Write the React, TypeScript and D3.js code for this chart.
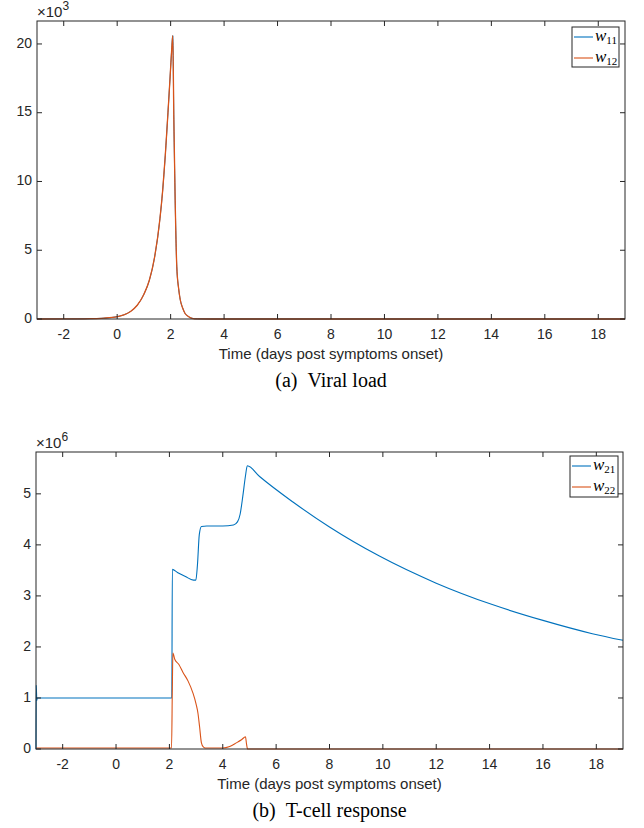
import React from "react";
import * as d3 from "d3";

// ---------- data ----------
const xTicks = [-2, 0, 2, 4, 6, 8, 10, 12, 14, 16, 18];
const yTicksA = [0, 5, 10, 15, 20];
const yTicksB = [0, 1, 2, 3, 4, 5];

// Viral load (x10^3)
const tA = [-3, -2, -1.5, -1, -0.5, 0, 0.25, 0.5, 0.75, 1, 1.2, 1.4, 1.6, 1.7, 1.8, 1.9, 1.98, 2.04, 2.08, 2.12, 2.17, 2.23, 2.3, 2.36, 2.45, 2.54, 2.65, 2.8, 3, 3.5, 19];
const w11 = [0, 0.002, 0.005, 0.02, 0.06, 0.17, 0.3, 0.55, 1.0, 1.8, 2.8, 4.5, 7.3, 9.3, 11.9, 15.0, 17.6, 19.6, 20.6, 14.5, 8.6, 3.8, 2.2, 1.4, 0.8, 0.4, 0.2, 0.05, 0.01, 0, 0];
const w12 = [0, 0.002, 0.005, 0.02, 0.06, 0.17, 0.3, 0.55, 1.0, 1.8, 2.8, 4.5, 7.3, 9.3, 11.9, 15.0, 17.6, 19.6, 20.6, 14.5, 8.6, 3.8, 2.2, 1.4, 0.8, 0.4, 0.2, 0.05, 0.01, 0, 0];

// T-cell response (x10^6)
const tB21 = [-3, -2.99, -2.97, -2.95, 2.09, 2.11, 2.3, 2.6, 2.9, 2.99, 3.05, 3.12, 3.2, 3.4, 4.0, 4.4, 4.55, 4.65, 4.75, 4.85, 4.92, 5.38, 6.63, 8.0, 9.87, 12.0, 14.1, 16.0, 17.85, 19];
const w21 = [0, 1.25, 0.95, 1.0, 1.0, 3.52, 3.46, 3.38, 3.31, 3.31, 3.6, 4.2, 4.36, 4.37, 4.37, 4.39, 4.45, 4.6, 4.95, 5.35, 5.55, 5.34, 4.84, 4.35, 3.78, 3.25, 2.83, 2.52, 2.26, 2.13];
const tB22 = [-3, 2.08, 2.11, 2.13, 2.2, 2.35, 2.51, 2.7, 2.88, 3.0, 3.07, 3.13, 3.2, 3.27, 3.35, 4.0, 4.26, 4.51, 4.7, 4.85, 4.89, 4.93, 19];
const w22 = [0.02, 0.02, 1.2, 1.88, 1.76, 1.66, 1.5, 1.33, 1.1, 0.88, 0.7, 0.44, 0.12, 0.04, 0.02, 0.02, 0.05, 0.12, 0.18, 0.24, 0.1, 0.0, 0.0];

const BLUE = "#0072BD";
const ORANGE = "#D95319";
const AX = "#262626";
const SANS = "'Liberation Sans', Arial, Helvetica, sans-serif";
const SERIF = "'Liberation Serif', 'Times New Roman', serif";

type Series = { t: number[]; v: number[]; color: string; w: number };

function Panel(props: {
  left: number; top: number; right: number; bottom: number;
  yMax: number; yTicks: number[]; exp: string;
  series: Series[]; legend: { sub: string; color: string }[];
  caption: string; legendBox: { x: number; y: number; w: number; h: number };
}) {
  const { left, top, right, bottom, yMax, yTicks, exp, series, legend, caption, legendBox } = props;
  const x = d3.scaleLinear().domain([-3, 19]).range([left, right]);
  const y = d3.scaleLinear().domain([0, yMax]).range([bottom, top]);
  const line = d3.line<[number, number]>().x(d => x(d[0])).y(d => y(d[1])).curve(d3.curveMonotoneX);
  const tk = 5;
  const cx = (left + right) / 2;
  return (
    <g>
      {series.map((s, i) => (
        <path key={i} d={line(s.t.map((t, j) => [t, s.v[j]] as [number, number])) || ""} fill="none" stroke={s.color} strokeWidth={s.w} strokeLinejoin="round" />
      ))}
      <rect x={left} y={top} width={right - left} height={bottom - top} fill="none" stroke={AX} strokeWidth={1} />
      {xTicks.map(v => (
        <g key={"x" + v}>
          <line x1={x(v)} x2={x(v)} y1={bottom} y2={bottom - tk} stroke={AX} />
          <line x1={x(v)} x2={x(v)} y1={top} y2={top + tk} stroke={AX} />
          <text x={x(v)} y={bottom + 16} textAnchor="middle" dominantBaseline="middle" fontFamily={SANS} fontSize={14} fill={AX}>{v < 0 ? "-" + Math.abs(v) : v}</text>
        </g>
      ))}
      {yTicks.map(v => (
        <g key={"y" + v}>
          <line x1={left} x2={left + tk} y1={y(v)} y2={y(v)} stroke={AX} />
          <line x1={right} x2={right - tk} y1={y(v)} y2={y(v)} stroke={AX} />
          <text x={left - 5} y={y(v)} textAnchor="end" dominantBaseline="middle" fontFamily={SANS} fontSize={14} fill={AX}>{v}</text>
        </g>
      ))}
      <text x={left} y={top - 4} fontFamily={SANS} fontSize={15} fill={AX}>
        <tspan>×10</tspan><tspan dy={-7} fontSize={12}>{exp}</tspan>
      </text>
      <text x={cx} y={bottom + 36} textAnchor="middle" dominantBaseline="middle" fontFamily={SANS} fontSize={15} fill={AX}>Time (days post symptoms onset)</text>
      <text x={cx} y={bottom + 63} textAnchor="middle" dominantBaseline="middle" fontFamily={SERIF} fontSize={20} fill="#000">{caption}</text>
      <rect x={legendBox.x} y={legendBox.y} width={legendBox.w} height={legendBox.h} fill="#fff" stroke={AX} strokeWidth={1} />
      {legend.map((l, i) => {
        const ly = legendBox.y + 10 + i * 21;
        return (
          <g key={"l" + i}>
            <line x1={legendBox.x + 2} x2={legendBox.x + 21} y1={ly} y2={ly} stroke={l.color} strokeWidth={1.1} />
            <text x={legendBox.x + 23} y={ly + 4} fontFamily={SERIF} fontSize={17} fontStyle="italic" fill="#000">
              w<tspan fontStyle="normal" fontSize={11} dy={3}>{l.sub}</tspan>
            </text>
          </g>
        );
      })}
    </g>
  );
}

export default function App() {
  return (
    <svg width={644} height={828} style={{ position: "absolute", left: 0, top: 0, background: "#fff" }}>
      <rect width={644} height={828} fill="#fff" />
      <Panel left={37} top={21} right={625} bottom={319} yMax={21.67} yTicks={yTicksA} exp="3"
        series={[{ t: tA, v: w11, color: BLUE, w: 1.0 }, { t: tA, v: w12, color: ORANGE, w: 1.3 }]}
        legend={[{ sub: "11", color: BLUE }, { sub: "12", color: ORANGE }]}
        caption={"(a)\u00A0\u00A0Viral load"} legendBox={{ x: 572, y: 27, w: 47, h: 40 }} />
      <Panel left={36} top={452} right={623} bottom={749} yMax={5.82} yTicks={yTicksB} exp="6"
        series={[{ t: tB21, v: w21, color: BLUE, w: 1.1 }, { t: tB22, v: w22, color: ORANGE, w: 1.1 }]}
        legend={[{ sub: "21", color: BLUE }, { sub: "22", color: ORANGE }]}
        caption={"(b)\u00A0\u00A0T-cell response"} legendBox={{ x: 570, y: 456, w: 48, h: 41 }} />
    </svg>
  );
}
